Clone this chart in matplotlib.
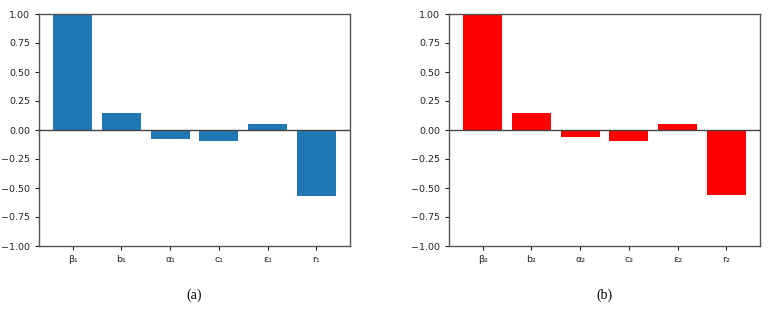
import numpy as np
import matplotlib
matplotlib.use('Agg')
import matplotlib.pyplot as plt

# data
labels_a = ['β₁', 'b₁', 'α₁', 'c₁', 'ε₁', 'r₁']
labels_b = ['β₂', 'b₂', 'α₂', 'c₂', 'ε₂', 'r₂']
vals_a = [1.0, 0.144, -0.078, -0.095, 0.049, -0.57]
vals_b = [1.0, 0.144, -0.060, -0.095, 0.049, -0.562]
yticks = [-1.0, -0.75, -0.5, -0.25, 0.0, 0.25, 0.5, 0.75, 1.0]

fig = plt.figure(figsize=(7.7, 3.09), dpi=100)
ax1 = fig.add_axes([39/770, 1 - 246/309, 311/770, 232/309])
ax2 = fig.add_axes([449/770, 1 - 246/309, 311/770, 232/309])

def draw(ax, labels, vals, color, caption):
    x = np.arange(len(labels))
    ax.bar(x, vals, width=0.8, color=color)
    ax.axhline(0, color='#444444', lw=1.0)
    ax.set_ylim(-1, 1)
    ax.set_yticks(yticks)
    ax.set_yticklabels(['%.2f' % v if v >= 0 else '\u2212%.2f' % -v for v in yticks])
    ax.set_xticks(x)
    ax.set_xticklabels(labels)
    ax.tick_params(labelsize=6.8, length=3, width=0.8, color='#222222', labelcolor='#222222')
    for s in ax.spines.values():
        s.set_color('#555555')
        s.set_linewidth(1.0)
    ax.text(0.5, -0.212, caption, transform=ax.transAxes, ha='center', va='center',
            fontsize=10, family='Liberation Serif')

draw(ax1, labels_a, vals_a, '#1f77b4', '(a)')
draw(ax2, labels_b, vals_b, '#ff0000', '(b)')

fig.savefig('out.png', dpi=100)
